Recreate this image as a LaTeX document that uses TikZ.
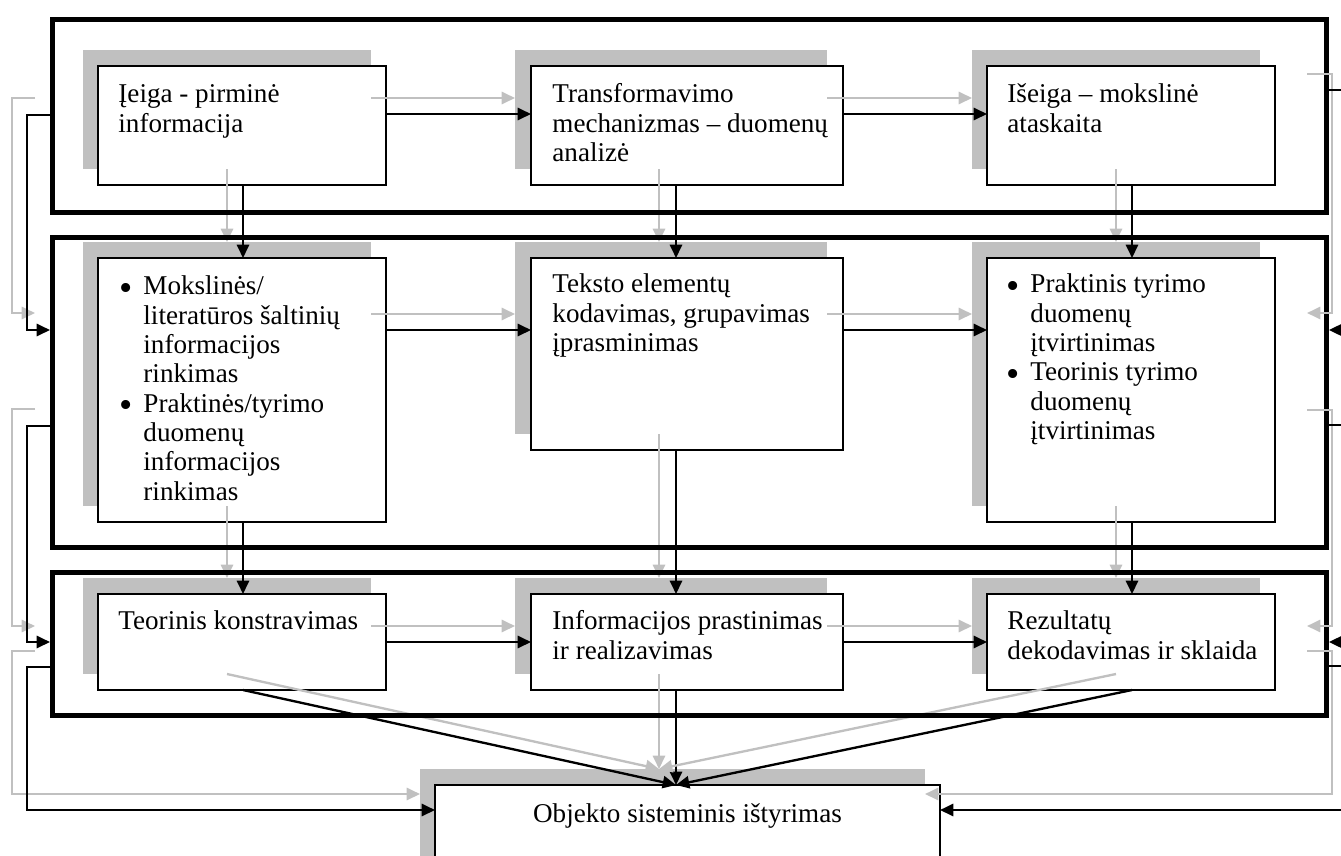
\documentclass[tikz,border=0pt]{standalone}
\usepackage{fontspec}
\setmainfont{Liberation Serif}
\usetikzlibrary{arrows.meta}
\definecolor{pilkas}{RGB}{192,192,192}
\newcommand{\vnt}{0.45pt}
\newcommand{\taskas}{\raisebox{-0.45ex}{\fontsize{17}{13.2}\selectfont\textbullet}}

\begin{document}
\begin{tikzpicture}[x=\vnt, y=-\vnt,
        pakopa/.style={draw, line width=2.2pt, anchor=north west, inner sep=0pt, minimum width=1274*\vnt},
        blokas/.style={draw, fill=white, line width=0.8pt, anchor=north west, inner sep=0pt, outer sep=0pt, minimum width=288*\vnt},
        seselis/.style={fill=pilkas, anchor=north west, inner sep=0pt, outer sep=0pt, minimum width=288*\vnt},
        vidurys/.style={minimum width=312*\vnt},
        eil1/.style={minimum height=119*\vnt},
        eil2/.style={minimum height=264*\vnt},
        eil2m/.style={minimum height=192*\vnt},
        eil3/.style={minimum height=96*\vnt},
        tekstas/.style={anchor=north west, inner sep=0pt, align=left, font=\fontsize{12.2}{13.2}\selectfont},
        sarasas/.style={anchor=north west, inner sep=0pt, font=\fontsize{12.2}{13.2}\selectfont},
        juoda/.style={line width=1.05pt, -{Triangle[length=6pt,width=5.5pt]}},
        pilka/.style={pilkas, line width=1.05pt, -{Triangle[length=6pt,width=5.5pt]}}]
        \useasboundingbox (0,0) rectangle (1341,855);
        \clip (0,0) rectangle (1341,855);
        % seseliai
        \node[seselis, eil1] (a1s) at (83,50) {};
        \node[seselis, eil1, vidurys] (a2s) at (515,50) {};
        \node[seselis, eil1] (a3s) at (972,50) {};
        \node[seselis, eil2] (b1s) at (83,242) {};
        \node[seselis, eil2m, vidurys] (b2s) at (515,242) {};
        \node[seselis, eil2] (b3s) at (972,242) {};
        \node[seselis, eil3] (c1s) at (83,578) {};
        \node[seselis, eil3, vidurys] (c2s) at (515,578) {};
        \node[seselis, eil3] (c3s) at (972,578) {};
        \node[seselis, minimum width=505*\vnt, minimum height=100*\vnt] (ds) at (420,769) {};
        % blokai
        \node[blokas, eil1] (a1) at (98,66) {};
        \node[blokas, eil1, vidurys] (a2) at (531,66) {};
        \node[blokas, eil1] (a3) at (987,66) {};
        \node[blokas, eil2] (b1) at (98,258) {};
        \node[blokas, eil2m, vidurys] (b2) at (531,258) {};
        \node[blokas, eil2] (b3) at (987,258) {};
        \node[blokas, eil3] (c1) at (98,594) {};
        \node[blokas, eil3, vidurys] (c2) at (531,594) {};
        \node[blokas, eil3] (c3) at (987,594) {};
        \node[blokas, minimum width=505*\vnt, minimum height=100*\vnt] (d) at (435,785) {};
        % tekstai
        \node[tekstas] (a1t) at ([shift={(20,16)}]a1.north west) {\strut Įeiga - pirminė\\informacija};
        \node[tekstas] (a2t) at ([shift={(21,16)}]a2.north west) {\strut Transformavimo\\mechanizmas – duomenų\\analizė};
        \node[tekstas] (a3t) at ([shift={(20,16)}]a3.north west) {\strut Išeiga – mokslinė\\ataskaita};
        \node[sarasas] (b1t) at ([shift={(21,16)}]b1.north west) {%
            \begin{tabular}{@{}p{10.8pt}@{}l@{}}
                \taskas & Mokslinės/\\
                 & literatūros šaltinių\\
                 & informacijos\\
                 & rinkimas\\
                \taskas & Praktinės/tyrimo\\
                 & duomenų\\
                 & informacijos\\
                 & rinkimas
            \end{tabular}};
        \node[tekstas] (b2t) at ([shift={(21,14)}]b2.north west) {\strut Teksto elementų\\kodavimas, grupavimas\\įprasminimas};
        \node[sarasas] (b3t) at ([shift={(19,14)}]b3.north west) {%
            \begin{tabular}{@{}p{10.8pt}@{}l@{}}
                \taskas & Praktinis tyrimo\\
                 & duomenų\\
                 & įtvirtinimas\\
                \taskas & Teorinis tyrimo\\
                 & duomenų\\
                 & įtvirtinimas
            \end{tabular}};
        \node[tekstas] (c1t) at ([shift={(20,15)}]c1.north west) {\strut Teorinis konstravimas};
        \node[tekstas] (c2t) at ([shift={(21,15)}]c2.north west) {\strut Informacijos prastinimas\\ir realizavimas};
        \node[tekstas] (c3t) at ([shift={(20,15)}]c3.north west) {\strut Rezultatų\\dekodavimas ir sklaida};
        \node[tekstas, anchor=north] (dt) at ([shift={(0,17)}]d.north) {\strut Objekto sisteminis ištyrimas};
        % rodykles
        \foreach \nuo/\iki/\dy in {a1/a2/48, a2/a3/48, b1/b2/72, b2/b3/72, c1/c2/48, c2/c3/48} {
            \draw[pilka] ([shift={(0,\dy)}]\nuo s.north east) -- ([shift={(0,\dy)}]\iki s.north west);
            \draw[juoda] ([shift={(0,\dy)}]\nuo.north east) -- ([shift={(0,\dy)}]\iki.north west);
        }
        \foreach \nuo/\iki in {a1/b1, a2/b2, a3/b3, b1/c1, b2/c2, b3/c3} {
            \draw[pilka] ([shift={(144,0)}]\nuo s.south west) -- ([shift={(144,0)}]\iki s.north west);
            \draw[juoda] ([shift={(145,0)}]\nuo.south west) -- ([shift={(145,0)}]\iki.north west);
        }
        \foreach \nuo in {c1, c2, c3} {
            \draw[pilka] ([shift={(144,0)}]\nuo s.south west) -- ([shift={(239,0)}]ds.north west);
            \draw[juoda] ([shift={(145,0)}]\nuo.south west) -- ([shift={(241,0)}]d.north west);
        }
        % pakopos
        \node[pakopa, minimum height=193*\vnt] (p1) at (50,17) {};
        \node[pakopa, minimum height=310*\vnt] (p2) at (50,235) {};
        \node[pakopa, minimum height=143*\vnt] (p3) at (50,570) {};
        % grizimai
        \draw[pilka] (35,98) -- (12,98) |- (35,313);
        \draw[pilka] (35,409) -- (12,409) |- (35,626);
        \draw[pilka] (35,651) -- (12,651) |- (ds.west |- 0,794);
        \draw[pilka] (1307,74) -- (1332,74) |- (1307,313);
        \draw[pilka] (1307,410) -- (1332,410) |- (1307,626);
        \draw[pilka] (1307,651) -- (1332,651) |- (ds.east |- 0,794);
        \draw[juoda] (p1.west |- 0,115) -- (27,115) |- (p2.west |- 0,330);
        \draw[juoda] (p2.west |- 0,426) -- (27,426) |- (p3.west |- 0,642);
        \draw[juoda] (p3.west |- 0,667) -- (27,667) |- (d.west |- 0,810);
        \draw[juoda] (p1.east |- 0,90) -- (1360,90) |- (p2.east |- 0,330);
        \draw[juoda] (p2.east |- 0,425) -- (1360,425) |- (p3.east |- 0,642);
        \draw[juoda] (p3.east |- 0,666) -- (1360,666) |- (d.east |- 0,810);
    \end{tikzpicture}
\end{document}
